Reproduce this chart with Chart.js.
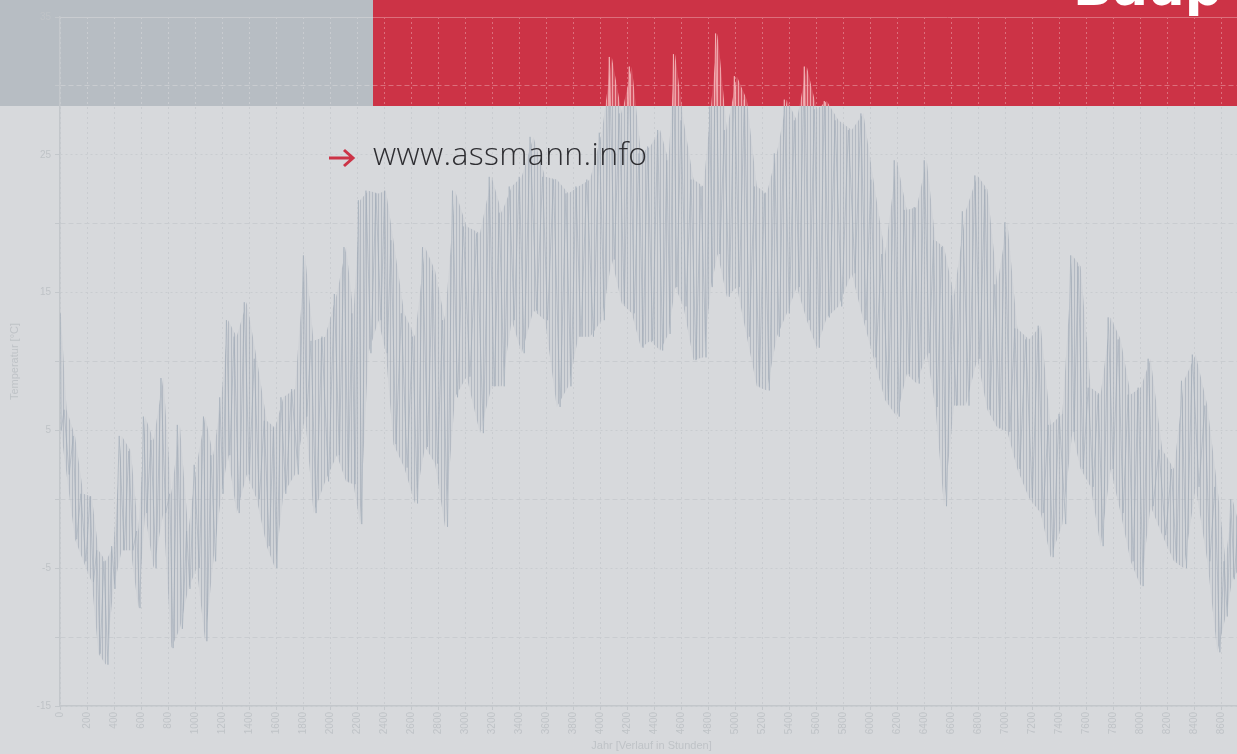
<!DOCTYPE html>
<html>
<head>
<meta charset="utf-8">
<script src="https://cdn.jsdelivr.net/npm/chart.js@4.4.1/dist/chart.umd.min.js"></script>
<style>
  html, body { margin: 0; padding: 0; width: 1237px; height: 754px; overflow: hidden; background: #d7d9dc; }
  #grayBlock { position: absolute; left: 0; top: 0; width: 373px; height: 106px; background: #b7bdc3; z-index: 1; }
  #mainWrap { position: absolute; left: 0; top: 0; width: 1260px; height: 754px; z-index: 2; }
  #redBlock { position: absolute; left: 373px; top: 0; width: 864px; height: 106px; background: #cc3346; z-index: 3; }
  #redClip { position: absolute; left: 373px; top: 0; width: 864px; height: 106px; overflow: hidden; z-index: 4; }
  #redClip .inner { position: absolute; left: -373px; top: 0; width: 1260px; height: 754px; }
  #brand { position: absolute; left: 1073px; top: -39px; font: bold 52px/52px 'DejaVu Sans', sans-serif; color: #fff; white-space: nowrap; z-index: 5; }
  #arrow { position: absolute; left: 327px; top: 148px; z-index: 5; }
  #url { position: absolute; left: 373px; top: 137px; font: 300 32px/32px 'Open Sans', sans-serif; letter-spacing: 0.35px; color: #2e2e32; white-space: nowrap; z-index: 5; }
</style>
</head>
<body>
<div id="grayBlock"></div>
<div id="mainWrap"><canvas id="mainChart" width="1260" height="754"></canvas></div>
<div id="redBlock"></div>
<div id="redClip"><div class="inner"><canvas id="redChart" width="1260" height="754"></canvas></div></div>
<div id="brand">Baup</div>
<svg id="arrow" width="30" height="20" viewBox="0 0 30 20">
  <path d="M2 10 H26 M17 2 L26 10 L17 18" fill="none" stroke="#cc3346" stroke-width="3"/>
</svg>
<div id="url">www.assmann.info</div>

<script>
// Stundenwerte als Hüllkurve: Beginn jedes Abschnitts, Maximum und Minimum darin
const binHours = [0,12,86,136,210,260,310,370,420,494,555,605,655,730,800,850,925,975,1050,1100,
  1170,1220,1270,1346,1420,1494,1568,1618,1690,1790,1840,1915,2013,2087,
  2150,2197,2247,2321,2395,2432,2506,2592,2666,2740,2814,2888,2962,3060,3160,3234,
  3308,3382,3456,3555,3629,3728,3802,3876,3975,4049,4123,4197,4271,
  4333,4407,4481,4530,4580,4654,4728,4802,4839,4901,4975,5049,5123,5197,5271,5345,5419,
  5493,5567,5641,5715,5813,5912,5986,6060,6159,6233,6307,6381,6455,
  6509,6583,6657,6756,6830,6904,6978,7052,7126,7225,7299,7373,7472,7521,7595,7669,7743,
  7817,7891,7965,8039,8113,8212,8286,8360,8459,8533,8607,8656,8708];

const binMax = [13.5,6.5,4.6,0.4,0.2,-3.7,-4.5,-3.4,4.6,3.5,-2.3,6,4.3,8.8,0.4,5.4,-2.3,2.5,6,3.2,
  7.4,13,11.8,14.3,10.2,5.7,5.2,7.4,8,17.7,11.5,11.8,14.9,18.3,
  13.5,21.7,22.4,22.2,22.4,18.8,13.5,11.8,18.3,16.6,13,22.4,19.8,19.3,23.4,20.8,
  22.7,23.4,26.3,23.4,23.2,22.2,22.7,23.2,26.6,32.1,28,31.4,25.1,
  25.6,26.8,24.6,32.3,27.5,23.2,22.7,28.5,33.8,26.8,30.7,29,22.7,22.2,25.1,29,27.5,
  31.4,28.3,28.9,27.5,26.8,28,23.2,17.8,24.6,21,21.2,24.6,18.8,
  18.3,14.8,20.9,23.5,22.5,15.6,20.1,12.4,11.6,12.6,5.4,6.2,17.7,16.9,8.1,7.6,13.2,
  11.6,7.6,8.1,10.2,3.6,2.2,8.6,10.5,6.8,0.9,-4.5,0,-2];

const binMin = [5,1.8,-2.9,-4.5,-6,-11.2,-12,-6.5,-3.7,-3.7,-7.9,-1,-5,-1,-10.8,-9.4,-6.5,-5,-10.3,-4.5,
  0.4,3.2,-1,1.8,0,-3.4,-5,0.4,1.8,6,-1,1.3,3.2,1.3,
  1.1,-1.8,10.6,13,10.6,4,2.3,-0.3,3.8,2.6,-2,7.4,8.9,4.8,8.2,8.2,
  13,10.6,13.7,13,6.7,8.2,11.8,11.8,13,17.4,14.2,13.5,11,
  11.5,10.8,12,15.4,14,10.1,10.3,15.4,17.8,14.7,15.4,11.8,8.2,7.9,11.8,13.5,15.4,
  13,11,13.2,14,16.4,13,10.3,7.2,6,9.1,8.4,10.6,6.7,
  -0.5,6.8,6.8,10.2,6.5,5.2,4.9,2.2,0.1,-1,-4.2,-1.8,4.9,2.2,0.9,-3.4,2.2,
  -1,-4.5,-6.3,-0.5,-2.6,-4.5,-5,0.9,-4.5,-11.1,-8.5,-5.8,-5];

const yearEnd = 8760;
const xTicks = [0,200,400,600,800,1000,1200,1400,1600,1800,2000,2200,2400,2600,2800,3000,
  3200,3400,3600,3800,4000,4200,4400,4600,4800,5000,5200,5400,5600,5800,6000,6200,
  6400,6600,6800,7000,7200,7400,7600,7800,8000,8200,8400,8600];
const yLabels = [35, 25, 15, 5, -5, -15];
const yAxisTitle = 'Temperatur [°C]';
const xAxisTitle = 'Jahr [Verlauf in Stunden]';

// Punkte für Zickzack-Linie und Band
const zigzag = [];
const upper = [];
const lower = [];
binHours.forEach((h, i) => {
  const end = i + 1 < binHours.length ? binHours[i + 1] : yearEnd;
  const w = end - h;
  zigzag.push({ x: h + w * 0.25, y: binMax[i] }, { x: h + w * 0.75, y: binMin[i] });
  upper.push({ x: h + w * 0.5, y: binMax[i] });
  lower.push({ x: h + w * 0.5, y: binMin[i] });
});

// senkrechte Schraffur, damit das Band wie dichte Stundenstriche aussieht
function hatch(lineColor, baseColor) {
  const c = document.createElement('canvas');
  c.width = 3;
  c.height = 4;
  const g = c.getContext('2d');
  g.fillStyle = baseColor;
  g.fillRect(0, 0, 3, 4);
  g.fillStyle = lineColor;
  g.fillRect(0, 0, 1, 4);
  return g.createPattern(c, 'repeat');
}

Chart.defaults.font.family = "'Liberation Sans', Arial, sans-serif";

function makeChart(canvasId, c) {
  const ctx = document.getElementById(canvasId).getContext('2d');
  return new Chart(ctx, {
    type: 'line',
    data: {
      datasets: [
        { data: upper, borderWidth: 0, pointRadius: 0, fill: '+1', backgroundColor: hatch(c.hatch, c.band), borderColor: 'rgba(0,0,0,0)' },
        { data: lower, borderWidth: 0, pointRadius: 0, fill: false, borderColor: 'rgba(0,0,0,0)' },
        { data: zigzag, borderWidth: 1, pointRadius: 0, fill: false, borderColor: c.line, tension: 0 }
      ]
    },
    options: {
      responsive: false,
      animation: false,
      devicePixelRatio: 1,
      layout: { padding: { top: 17, right: 17, left: 0, bottom: 0 } },
      plugins: { legend: { display: false }, tooltip: { enabled: false } },
      scales: {
        x: {
          type: 'linear',
          min: 0,
          max: yearEnd,
          afterBuildTicks: s => { s.ticks = xTicks.map(v => ({ value: v })); },
          ticks: {
            autoSkip: false,
            minRotation: 90,
            maxRotation: 90,
            padding: 2,
            color: c.text,
            font: { size: 10 },
            callback: v => String(v)
          },
          grid: { color: c.grid, tickLength: 4, tickColor: c.axis },
          border: { color: c.axis, width: 1.5, dash: [2, 3] },
          title: { display: true, text: xAxisTitle, color: c.text, font: { size: 11 }, padding: { top: 0, bottom: 1 } },
          afterFit: s => { s.height = 48; }
        },
        y: {
          min: -15,
          max: 35,
          ticks: {
            stepSize: 5,
            padding: 4,
            color: c.text,
            font: { size: 10 },
            callback: v => (yLabels.includes(v) ? String(v) : '')
          },
          grid: { color: c.grid, tickLength: 5, tickColor: c.axis },
          border: {
            color: c.axis,
            width: 1.5,
            dash: ctx => {
              if (!ctx.tick) return [];
              if (ctx.tick.value === 35) return [];
              return ctx.tick.value % 10 === 0 ? [5, 3] : [2, 3];
            }
          },
          title: { display: true, text: yAxisTitle, color: c.text, font: { size: 11 }, padding: { top: 8 } },
          afterFit: s => { s.width = 60; }
        }
      }
    }
  });
}

makeChart('mainChart', {
  hatch: 'rgba(160,170,181,0.6)',
  band: 'rgba(185,193,201,0.22)',
  line: 'rgba(165,175,186,0.7)',
  grid: '#c9ccd0',
  axis: '#c3c7cb',
  text: '#bfc3c7'
});

makeChart('redChart', {
  hatch: 'rgba(245,185,188,0.8)',
  band: 'rgba(236,160,165,0.3)',
  line: 'rgba(242,180,182,0.9)',
  grid: '#dc6f7c',
  axis: '#dc6f7c',
  text: '#dc6f7c'
});
</script>
</body>
</html>
